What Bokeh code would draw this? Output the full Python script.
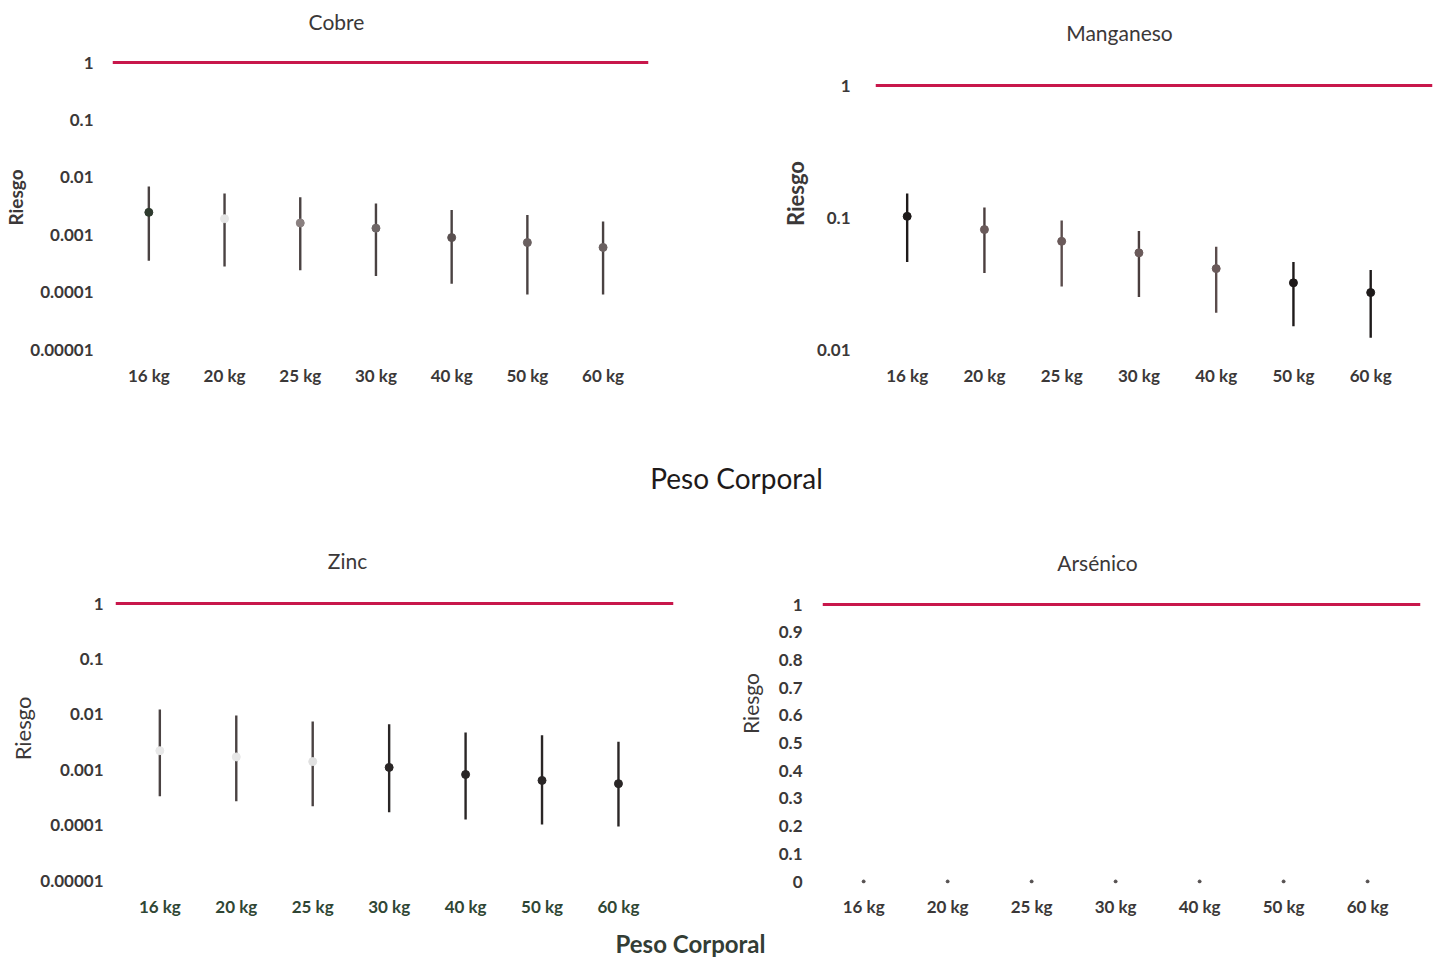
import math
from bokeh.plotting import figure
from bokeh.layouts import column, row
from bokeh.models import Span, FixedTicker, Label
from bokeh.embed import file_html
from bokeh.resources import INLINE

# Body-weight categories shared by every panel
weights = ["16 kg", "20 kg", "25 kg", "30 kg", "40 kg", "50 kg", "60 kg"]

# Risk estimates: central value, lower and upper bound per weight class
cobre_mid = [0.00245, 0.0019, 0.0016, 0.0013, 0.00089, 0.00073, 0.0006]
cobre_lo = [0.00035, 0.00028, 0.00024, 0.00019, 0.00014, 0.000091, 0.000091]
cobre_hi = [0.0069, 0.0052, 0.0045, 0.0035, 0.0027, 0.0022, 0.0017]

manganeso_mid = [0.102, 0.081, 0.066, 0.054, 0.041, 0.032, 0.027]
manganeso_lo = [0.046, 0.038, 0.030, 0.025, 0.019, 0.015, 0.0123]
manganeso_hi = [0.152, 0.119, 0.095, 0.079, 0.060, 0.046, 0.040]

zinc_mid = [0.0022, 0.0017, 0.0014, 0.0011, 0.00082, 0.00064, 0.00056]
zinc_lo = [0.00033, 0.00027, 0.00022, 0.00017, 0.000126, 0.000102, 0.000094]
zinc_hi = [0.0122, 0.0095, 0.0074, 0.0066, 0.0047, 0.0042, 0.0032]

arsenico_mid = [0, 0, 0, 0, 0, 0, 0]

# Acceptable-risk threshold
threshold = 1.0

log_ticks = [1, 0.1, 0.01, 0.001, 0.0001, 0.00001]
log_labels = ["1", "0.1", "0.01", "0.001", "0.0001", "0.00001"]
mn_ticks = [1, 0.1, 0.01]
mn_labels = ["1", "0.1", "0.01"]
lin_ticks = [0, 0.1, 0.2, 0.3, 0.4, 0.5, 0.6, 0.7, 0.8, 0.9, 1]
lin_labels = ["0", "0.1", "0.2", "0.3", "0.4", "0.5", "0.6", "0.7", "0.8", "0.9", "1"]

FONT = "Lato"
TXT = "#3b3838"
RED = "#c8174b"
DARK = "#2a2626"


def blank(width, frame_h, top, bottom):
    """Empty canvas used only to hold text labels."""
    s = figure(frame_width=width, frame_height=frame_h,
               min_border_left=0, min_border_right=0,
               min_border_top=top, min_border_bottom=bottom,
               x_range=(0, 1), y_range=(0, 1),
               x_axis_location=None, y_axis_location=None,
               output_backend="svg", toolbar_location=None)
    s.grid.visible = False
    s.outline_line_color = None
    return s


def text(fig, x, y, txt, size, style="normal", color=TXT, angle=0.0):
    fig.add_layout(Label(x=x, y=y, x_units="screen", y_units="screen", text=txt,
                         angle=angle, text_align="center", text_baseline="middle",
                         text_font=FONT, text_font_size=size,
                         text_font_style=style, text_color=color))


def panel(mid, lo, hi, log, x_span, y_span, borders, frame, ticks, labels, colors,
          y_label_standoff=18, point_size=8, xlabel_color=TXT):
    fw, fh = frame
    left, right, top, bottom = borders
    p = figure(
        frame_width=fw, frame_height=fh,
        min_border_left=left, min_border_right=right,
        min_border_top=top, min_border_bottom=bottom,
        x_range=x_span, y_range=y_span,
        y_axis_type="log" if log else "linear",
        output_backend="svg", toolbar_location=None,
        background_fill_color="white", border_fill_color="white",
    )
    p.outline_line_color = None
    p.xgrid.visible = False
    p.ygrid.visible = False

    idx = list(range(len(weights)))
    p.xaxis.ticker = FixedTicker(ticks=idx)
    p.xaxis.major_label_overrides = {i: w for i, w in enumerate(weights)}
    p.yaxis.ticker = FixedTicker(ticks=ticks)
    p.yaxis.major_label_overrides = {t_: l for t_, l in zip(ticks, labels)}
    for ax in (p.xaxis[0], p.yaxis[0]):
        ax.axis_line_color = None
        ax.major_tick_line_color = None
        ax.minor_tick_line_color = None
        ax.major_tick_out = 0
        ax.major_tick_in = 0
        ax.minor_tick_out = 0
        ax.minor_tick_in = 0
        ax.major_label_text_font = FONT
        ax.major_label_text_font_size = "17px"
        ax.major_label_text_font_style = "bold"
        ax.major_label_text_color = TXT
    p.xaxis.major_label_text_color = xlabel_color
    p.yaxis.major_label_standoff = y_label_standoff
    p.xaxis.major_label_standoff = 12

    p.add_layout(Span(location=threshold, dimension="width",
                      line_color=RED, line_width=3))

    if lo is not None:
        p.segment(x0=idx, y0=lo, x1=idx, y1=hi, line_color=colors["bar"],
                  line_width=2.4)
    p.scatter(x=idx, y=mid, size=point_size, fill_color=colors["pts"],
              line_color=colors["pts"])
    return p


# ---- top row (frames 300 px tall) ----
p1 = panel(cobre_mid, cobre_lo, cobre_hi, True,
           (-0.48, 6.6), (10 ** (-5 - 3 / 57.4), 10 ** (10 / 57.4)),
           (85, 32, 7, 48), (536, 300),
           log_ticks, log_labels,
           {"bar": "#4a4242",
            "pts": ["#2e3a2e", "#e6e6e6", "#8a8080", "#6e6666", "#5a5050", "#6a6060", "#6a6060"]},
           y_label_standoff=19)

p2 = panel(manganeso_mid, manganeso_lo, manganeso_hi, True,
           (-0.41, 6.8), (10 ** (-2 - 3 / 132), 10 ** (33 / 132)),
           (65, 8, 7, 48), (557, 300),
           mn_ticks, mn_labels,
           {"bar": ["#1e1a1a", "#4a3e3e", "#5a4c4c", "#4a3e3e", "#5a4c4c", "#1e1a1a", "#1e1a1a"],
            "pts": ["#1e1a1a", "#6a5a5a", "#6a5a5a", "#6a5a5a", "#6a5a5a", "#1e1a1a", "#1e1a1a"]},
           y_label_standoff=25)

s1 = blank(27, 300, 7, 48)
text(s1, 15, 155, "Riesgo", "19px", "bold", angle=math.pi / 2)
s2 = blank(130, 300, 7, 48)
text(s2, 115, 159, "Riesgo", "22px", "bold", angle=math.pi / 2)

top_titles = blank(1440, 45, 0, 0)
text(top_titles, 336, 24, "Cobre", "21px")
text(top_titles, 1119, 13, "Manganeso", "21px")

# ---- bottom row (frames 290 px tall) ----
p3 = panel(zinc_mid, zinc_lo, zinc_hi, True,
           (-0.58, 6.72), (10 ** (-5 - 3 / 55.4), 10 ** (10 / 55.4)),
           (78, 27, 18, 42), (558, 290),
           log_ticks, log_labels,
           {"bar": ["#4a4242", "#4a4242", "#4a4242", DARK, DARK, DARK, DARK],
            "pts": ["#e8e8e8", "#e8e8e8", "#e0e0e0", DARK, DARK, DARK, DARK]},
           y_label_standoff=12, xlabel_color="#2f4634")

p4 = panel(arsenico_mid, None, None, False,
           (-0.49, 6.63), (-2 / 277, 1 + 11 / 277),
           (52, 20, 18, 42), (598, 290),
           lin_ticks, lin_labels,
           {"bar": DARK, "pts": "#555050"}, y_label_standoff=20, point_size=3)

s3 = blank(37, 290, 18, 42)
text(s3, 22, 155, "Riesgo", "22px", angle=math.pi / 2)
s4 = blank(70, 290, 18, 42)
text(s4, 50, 180, "Riesgo", "21px", angle=math.pi / 2)

# Shared x caption plus the lower panel titles
mid = blank(1440, 175, 0, 0)
text(mid, 736, 98, "Peso Corporal", "28px", color="#1e1a1a")
text(mid, 347, 15, "Zinc", "21px")
text(mid, 1097, 13, "Arsénico", "21px")

bot = blank(1440, 34, 0, 0)
text(bot, 690, 16, "Peso Corporal", "24px", "bold", color="#333d35")

layout = column(
    top_titles,
    row(s1, p1, s2, p2, spacing=0),
    mid,
    row(s3, p3, s4, p4, spacing=0),
    bot,
    spacing=0,
)

open("out.html", "w").write(file_html(layout, INLINE))
